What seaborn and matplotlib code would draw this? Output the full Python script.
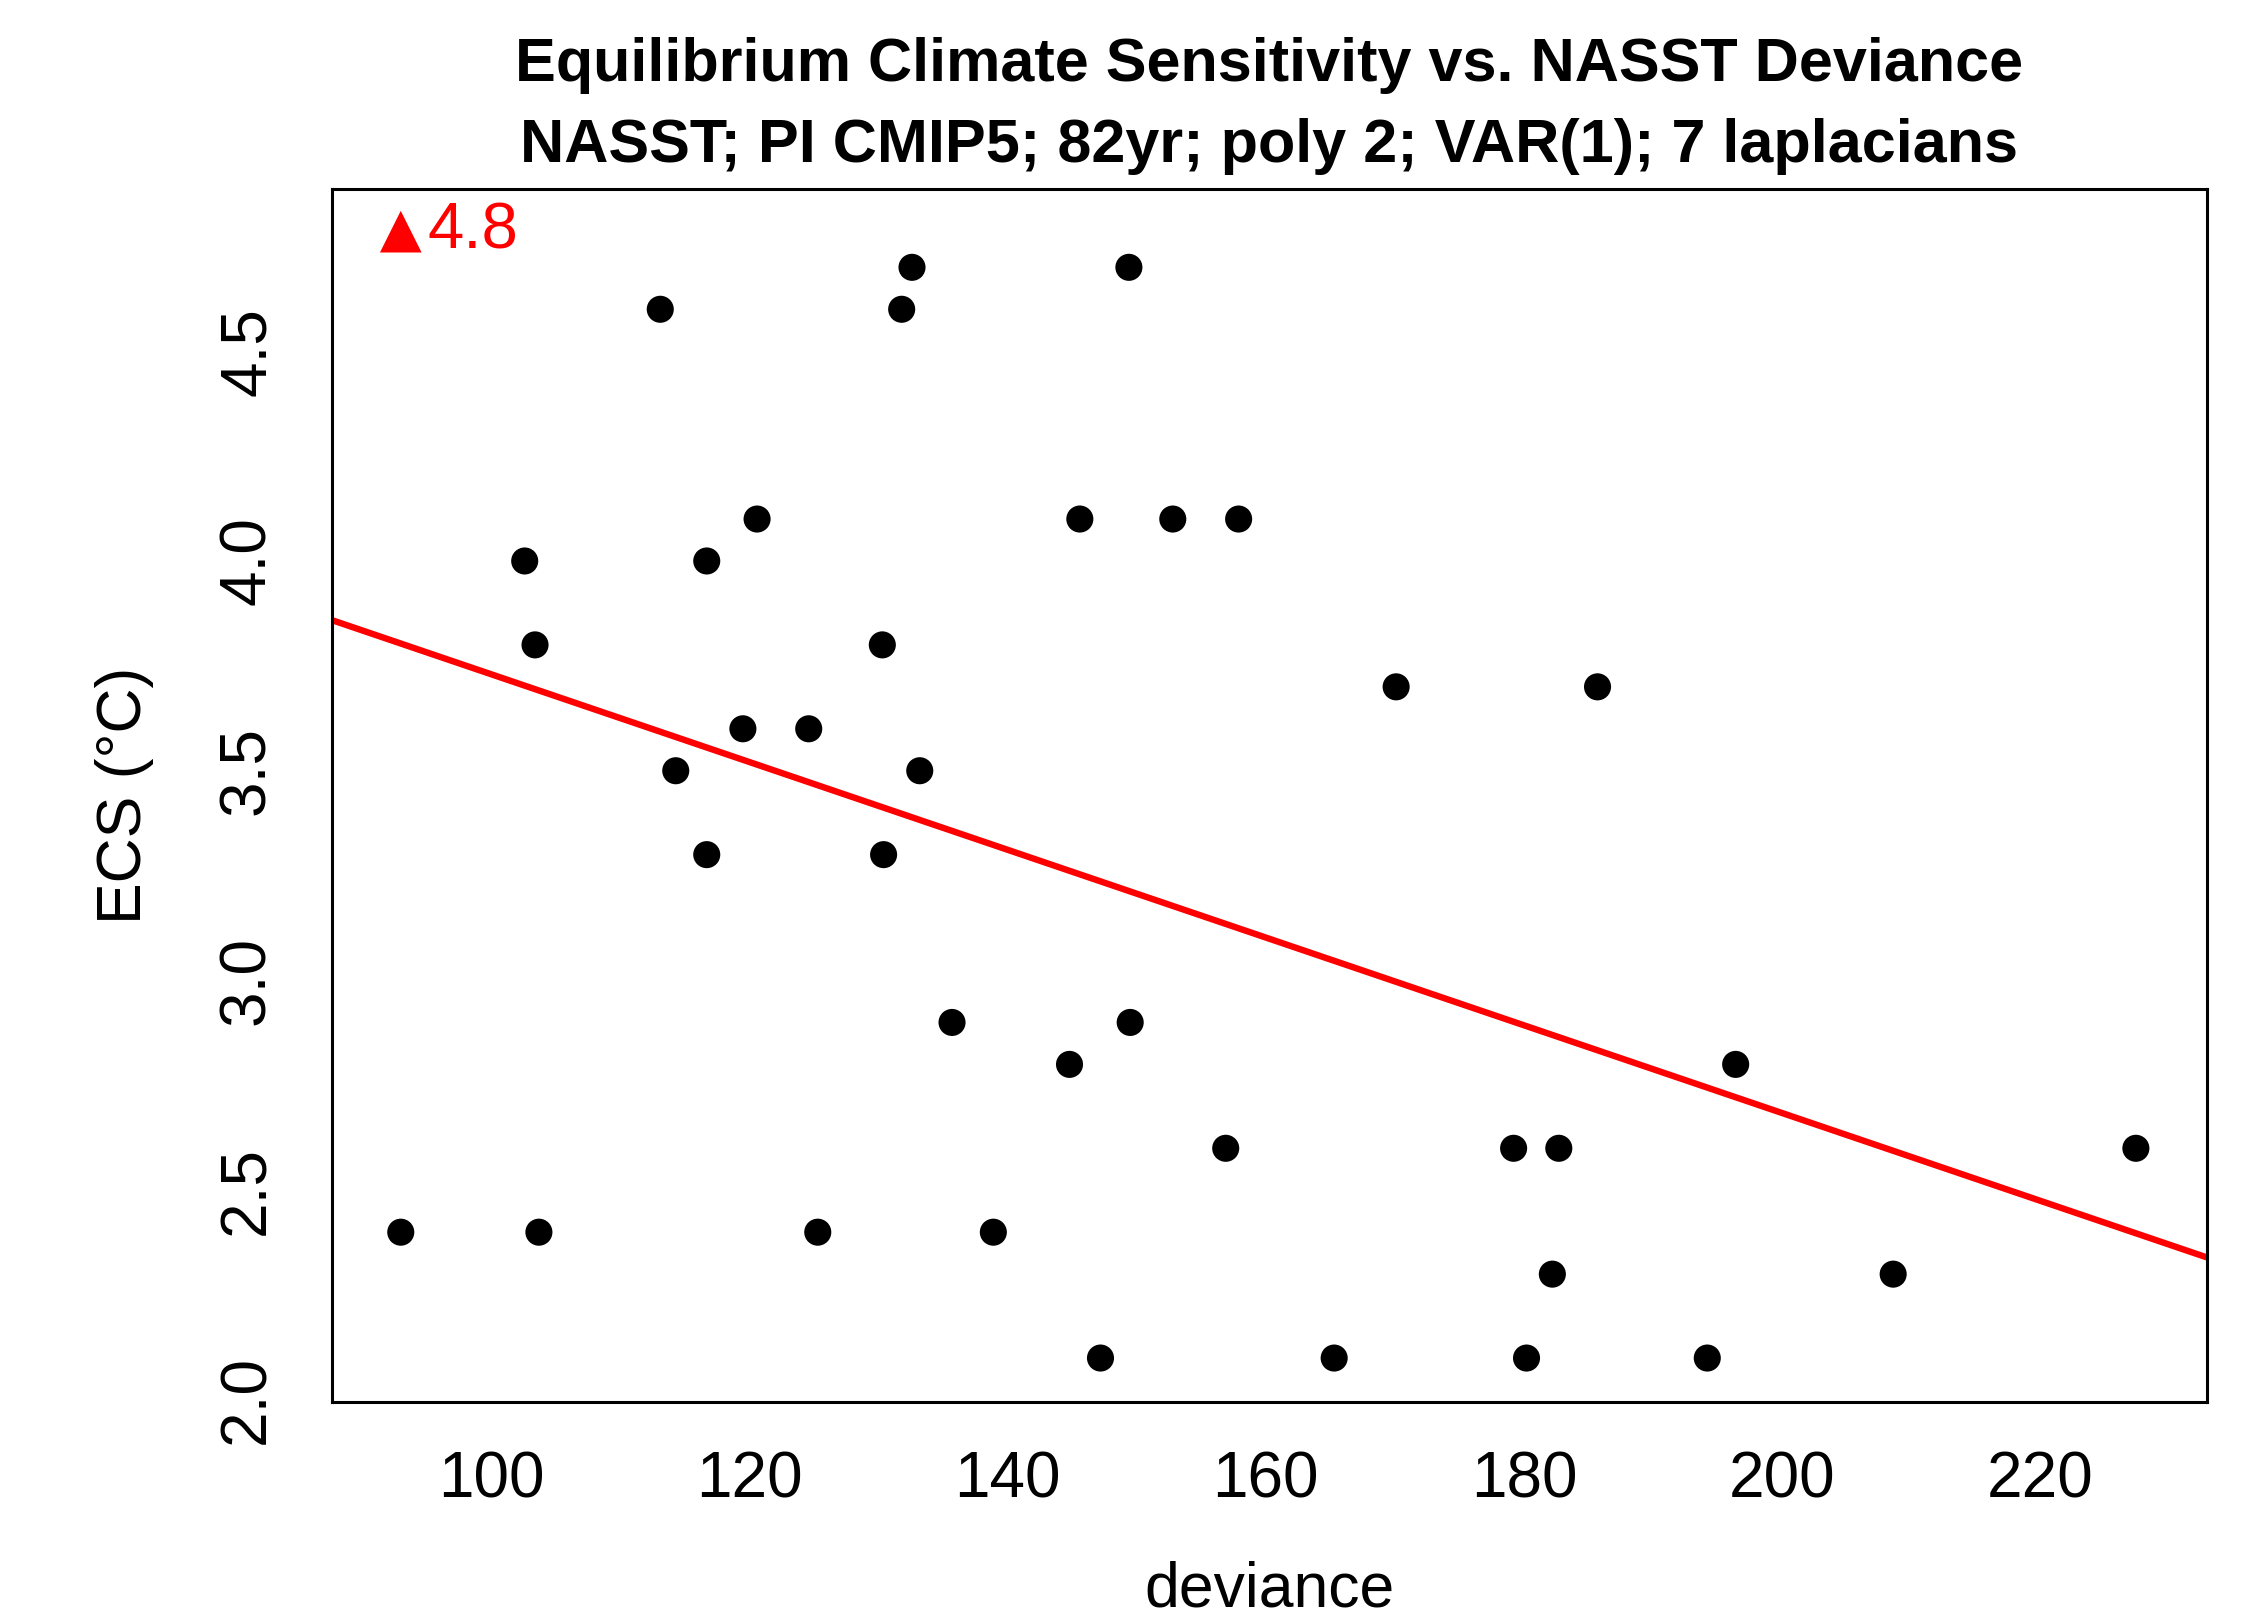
import numpy as np
import pandas as pd
import matplotlib
matplotlib.use("Agg")
import matplotlib.pyplot as plt
import seaborn as sns

# ---- data ----
deviance = [93.0, 102.6, 103.4, 103.7, 113.1, 114.3, 116.7, 116.7, 119.5, 120.6,
            124.6, 125.3, 130.3, 130.4, 131.8, 132.6, 133.2, 135.7, 138.9, 144.8,
            145.6, 147.2, 149.4, 149.5, 152.8, 156.9, 157.9, 165.3, 170.1, 179.2,
            180.2, 182.2, 182.7, 185.7, 194.2, 196.4, 208.6, 227.4]
ecs = [2.4, 4.0, 3.8, 2.4, 4.6, 3.5, 4.0, 3.3, 3.6, 4.1,
       3.6, 2.4, 3.8, 3.3, 4.6, 4.7, 3.5, 2.9, 2.4, 2.8,
       4.1, 2.1, 4.7, 2.9, 4.1, 2.6, 4.1, 2.1, 3.7, 2.6,
       2.1, 2.3, 2.6, 3.7, 2.1, 2.8, 2.3, 2.6]
fit_intercept = 4.776
fit_slope = -0.01046
marker_x = [93.0]
marker_y = [4.785]
marker_label = "4.8"
xticks = [100, 120, 140, 160, 180, 200, 220]
yticks = [2.0, 2.5, 3.0, 3.5, 4.0, 4.5]
title = "Equilibrium Climate Sensitivity vs. NASST Deviance\nNASST; PI CMIP5; 82yr; poly 2; VAR(1); 7 laplacians"

sns.set_theme(style="white")
plt.rcParams['font.family'] = ['Liberation Sans', 'DejaVu Sans']

W, H = 2245, 1619
fig = plt.figure(figsize=(W / 100, H / 100), dpi=100)
left, right, top, bottom = 331.7, 2206.5, 189.3, 1402.3
ax = fig.add_axes([left / W, 1 - bottom / H, (right - left) / W, (bottom - top) / H])

xlim = (87.65, 232.87)
ylim = (1.9945, 4.886)

df = pd.DataFrame({"deviance": deviance, "ecs": ecs})
sns.scatterplot(data=df, x="deviance", y="ecs", ax=ax, color="black", s=380,
                edgecolor="none", linewidth=0, zorder=3)

line_x = np.array(xlim)
line_df = pd.DataFrame({"x": line_x, "y": fit_intercept + fit_slope * line_x})
sns.lineplot(data=line_df, x="x", y="y", ax=ax, color="#ff0000", linewidth=4.6, zorder=2)

mdf = pd.DataFrame({"x": marker_x, "y": marker_y})
sns.scatterplot(data=mdf, x="x", y="y", ax=ax, color="#ff0000", marker="^", s=900,
                edgecolor="none", linewidth=0, zorder=4)
ax.annotate(marker_label, (marker_x[0], marker_y[0]), xytext=(19, 0),
            textcoords="offset points", color="#ff0000", fontsize=47,
            va="center", ha="left")

ax.set_xlim(*xlim)
ax.set_ylim(*ylim)
ax.set_xticks(xticks)
ax.set_xticklabels([str(t) for t in xticks])
ax.set_yticks(yticks)
ax.set_yticklabels([f"{t:.1f}" for t in yticks], rotation=90, va="center")

for s in ax.spines.values():
    s.set_visible(True)
    s.set_color("black")
    s.set_linewidth(2.2)

ax.tick_params(axis="both", which="major", direction="out", length=21, width=1.2,
               color="black", labelsize=46, labelcolor="black")
ax.tick_params(axis="x", pad=14)
ax.tick_params(axis="y", pad=18)

ax.set_xlabel("deviance", fontsize=45, labelpad=36, color="black")
ax.set_ylabel("ECS (°C)", fontsize=45, labelpad=46, color="black")

fig.text((left + right) / 2 / W, 1 - 106 / H, title, ha="center", va="center",
         fontsize=44, fontweight="bold", linespacing=1.55, color="black")

fig.savefig("out.png", dpi=100, facecolor="white")
